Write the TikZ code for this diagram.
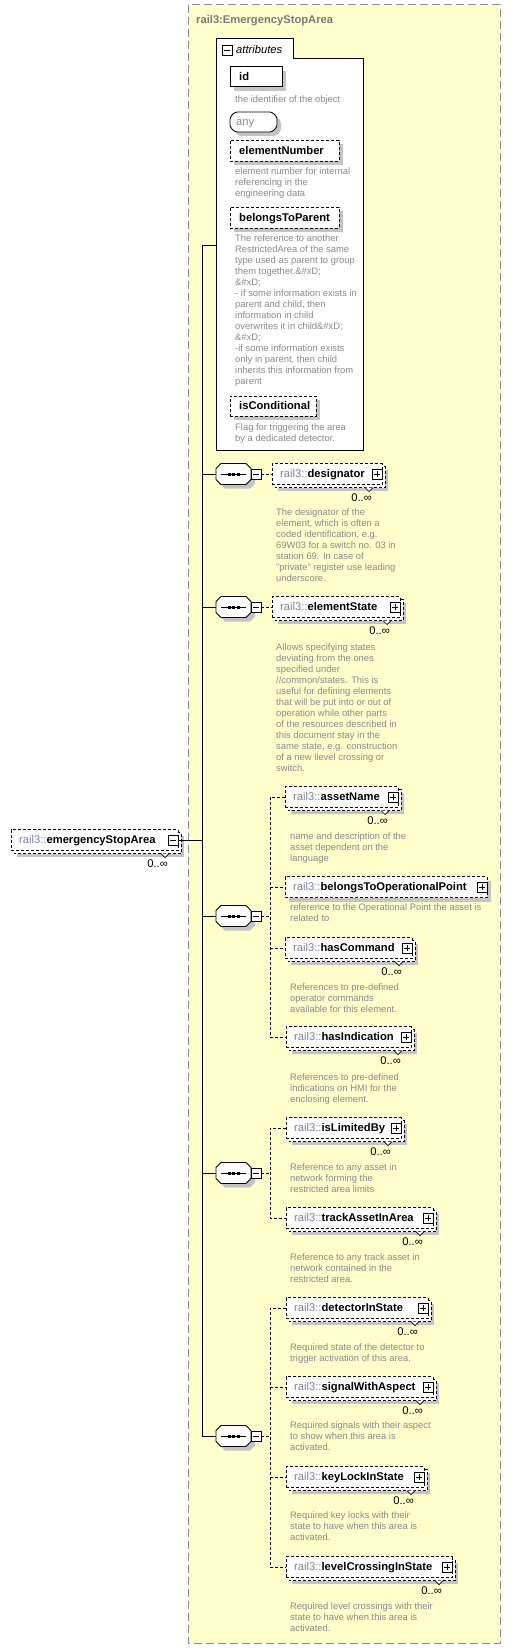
\documentclass[tikz,border=0pt]{standalone}
\usepackage{fontspec}
\setmainfont{Liberation Sans}
\definecolor{ybg}{HTML}{FFFFCC}
\definecolor{bgrey}{HTML}{8C8C8C}
\definecolor{shd}{HTML}{C4C4C4}
\definecolor{dtxt}{HTML}{8A8A8A}
\definecolor{pre}{HTML}{80809A}
\definecolor{ttl}{HTML}{7A7A7A}
\newcommand\labfont{\fontsize{11.2}{13}\selectfont}
\newcommand\descfont{\fontsize{9.4}{11}\selectfont}
\tikzset{
  dsh/.style={dash pattern=on 3pt off 2pt},
  boxd/.style={draw=black, line width=0.8pt, dsh, fill=white},
  lbl/.style={inner sep=0pt, font=\labfont, text height=7pt, text depth=0pt, anchor=west},
  mult/.style={inner sep=0pt, font=\labfont, text height=7pt, text depth=0pt, anchor=east},
  desc/.style={inner sep=0pt, font=\descfont, text=dtxt, align=left, anchor=north west},
  pmbox/.style={draw=black, line width=0.7pt, fill=white, minimum size=10pt, inner sep=0pt},
  minusb/.style={pmbox, path picture={\draw[line width=0.7pt] ([xshift=2pt]path picture bounding box.west) -- ([xshift=-2pt]path picture bounding box.east);}},
  plusb/.style={pmbox, path picture={\draw[line width=0.7pt] ([xshift=2pt]path picture bounding box.west) -- ([xshift=-2pt]path picture bounding box.east) ([yshift=2pt]path picture bounding box.south) -- ([yshift=-2pt]path picture bounding box.north);}},
  conn/.style={line width=1pt},
  dconn/.style={line width=0.9pt, dsh},
}
% element: id, x1, x2, cy, name, multi, sign style
\newcommand\xel[7]{%
  \ifnum#6=1
    \fill[shd] ({#2+6},{#4-4.5}) rectangle ({#3+6},{#4+16.5});
    \draw[boxd] ({#2+3},{#4-7.5}) rectangle ({#3+3},{#4+13.5});
    \draw[line width=0.7pt, fill=white] ({#3-17},{#4+13.5}) -- ({#3-13},{#4+17.5}) -- ({#3-9},{#4+13.5});
  \else
    \fill[shd] ({#2+4},{#4-6.5}) rectangle ({#3+4},{#4+14.5});
  \fi
  \node[boxd, minimum width={#3-#2}, minimum height=21, inner sep=0pt] (#1) at ({(#2+#3)/2},#4) {};
  \node[lbl] (#1-l) at ({#2+8},#4) {\textcolor{pre}{rail3::}\textbf{#5}};
  \node[#7] (#1-s) at ({#3-5},#4) {};
  \ifnum#6=1 \node[mult] (#1-c) at ({#3-10},{#4+24}) {0..∞};\fi
}
% sequence compositor: id, cy
\newcommand\octpath[1]{(221,{#1-10.5}) -- (246,{#1-10.5}) -- (251,{#1-5.5}) -- (251,{#1+5.5}) -- (246,{#1+10.5}) -- (221,{#1+10.5}) -- (216,{#1+5.5}) -- (216,{#1-5.5}) -- cycle}
\newcommand\seqc[2]{%
  \fill[shd, shift={(4,4)}] \octpath{#2};
  \draw[fill=white, line width=0.8pt] \octpath{#2};
  \node[minimum width=35, minimum height=21, inner sep=0pt] (#1) at (233.5,#2) {};
  \draw[line width=0.8pt] (221,#2) -- (246,#2);
  \fill (227.5,{#2-1.5}) rectangle (230.5,{#2+1.5});
  \fill (232,{#2-1.5}) rectangle (235,{#2+1.5});
  \fill (236.5,{#2-1.5}) rectangle (239.5,{#2+1.5});
  \node[minusb] (#1-s) at (256,#2) {};
}
\newcommand\dsc[4]{\node[desc] (#1) at (#2,{#3-7.7}) {\strut #4};}
\begin{document}
\begin{tikzpicture}[x=1pt,y=-1pt]
\useasboundingbox (0,0) rectangle (511,1651);
% yellow panel
\draw[fill=ybg, draw=bgrey, line width=1pt, dash pattern=on 8pt off 4pt] (188,5) rectangle (500,1643);
\node[lbl, text=ttl, font=\labfont\bfseries] (title) at (196,20) {rail3:EmergencyStopArea};

% attributes box
\draw[fill=white, line width=1pt] (216,450) -- (216,39) -- (293,39) -- (293,59) -- (363,59) -- (363,450) -- cycle;
\node[minimum width=147, minimum height=391, inner sep=0pt] (attr) at (289.5,254.5) {};
\node[minusb] (attr-s) at (227,50) {};
\node[lbl, font=\labfont\itshape] (attr-t) at (236,50) {attributes};

% id
\fill[shd] (234,71) rectangle (286,91);
\node[draw, line width=1pt, fill=white, minimum width=52, minimum height=20, inner sep=0pt] (aid) at (256,77) {};
\node[lbl, font=\labfont\bfseries] (aid-l) at (239,77) {id};
\dsc{aid-d}{235}{102.5}{the identifier of the object}
% any
\fill[shd, shift={(4,4)}, rounded corners=2.5pt] (235,112) -- (272,112) -- (277,117) -- (277,127) -- (272,132) -- (235,132) -- (230,127) -- (230,117) -- cycle;
\draw[fill=white, line width=0.8pt, rounded corners=2.5pt] (235,112) -- (272,112) -- (277,117) -- (277,127) -- (272,132) -- (235,132) -- (230,127) -- (230,117) -- cycle;
\node[lbl, text=dtxt] (aany) at (236,122) {any};
% elementNumber
\fill[shd] (234,144) rectangle (343,165);
\node[boxd, minimum width=109, minimum height=21, inner sep=0pt] (aen) at (284.5,150.5) {};
\node[lbl, font=\labfont\bfseries] (aen-l) at (239,150.5) {elementNumber};
\dsc{aen-d}{235}{174.5}{element number for internal\\referencing in the\\engineering data}
% belongsToParent
\fill[shd] (234,211) rectangle (343,232);
\node[boxd, minimum width=109, minimum height=21, inner sep=0pt] (abp) at (284.5,217.5) {};
\node[lbl, font=\labfont\bfseries] (abp-l) at (239,217.5) {belongsToParent};
\dsc{abp-d}{235}{241.5}{The reference to another\\RestrictedArea of the same\\type used as parent to group\\them together.\&\#xD;\\\&\#xD;\\- if some information exists in\\parent and child, then\\information in child\\overwrites it in child\&\#xD;\\\&\#xD;\\-if some information exists\\only in parent, then child\\inherits this information from\\parent}
% isConditional
\fill[shd] (234,400) rectangle (320,420);
\node[boxd, minimum width=86, minimum height=20, inner sep=0pt] (aic) at (273,406) {};
\node[lbl, font=\labfont\bfseries] (aic-l) at (239,406) {isConditional};
\dsc{aic-d}{235}{430.5}{Flag for triggering the area\\by a dedicated detector.}

% main element
\xel{esa}{11}{178}{840}{emergencyStopArea}{1}{minusb}

% compositors
\seqc{s1}{474}
\seqc{s2}{607}
\seqc{s3}{916}
\seqc{s4}{1173}
\seqc{s5}{1436}

% trunk
\coordinate (j0) at (202,245);
\coordinate (j5) at (202,1436);
\draw[conn] (j0 -| attr.west) -- (j0) -- (j5) -- (s5.west);
\draw[conn] (esa-s.east) -- (esa-s.east -| j0);
\draw[conn] (s1.west -| j0) -- (s1.west);
\draw[conn] (s2.west -| j0) -- (s2.west);
\draw[conn] (s3.west -| j0) -- (s3.west);
\draw[conn] (s4.west -| j0) -- (s4.west);

% children of s1, s2
\xel{des}{272}{382}{474}{designator}{1}{plusb}
\dsc{des-d}{276}{515.5}{The designator of the\\element, which is often a\\coded identification, e.g.\\69W03 for a switch no. 03 in\\station 69. In case of\\"private" register use leading\\underscore.}
\draw[dconn] (s1-s.east) -- (des.west);

\xel{est}{272}{400}{607}{elementState}{1}{plusb}
\dsc{est-d}{276}{650.5}{Allows specifying states\\deviating from the ones\\specified under\\//common/states. This is\\useful for defining elements\\that will be put into or out of\\operation while other parts\\of the resources described in\\this document stay in the\\same state, e.g. construction\\of a new llevel crossing or\\switch.}
\draw[dconn] (s2-s.east) -- (est.west);

% children of s3
\xel{an}{285}{398}{797}{assetName}{1}{plusb}
\dsc{an-d}{290}{839.5}{name and description of the\\asset dependent on the\\language}
\xel{bop}{285}{487}{887}{belongsToOperationalPoint}{0}{plusb}
\dsc{bop-d}{290}{910.5}{reference to the Operational Point the asset is\\related to}
\xel{hc}{285}{412}{948}{hasCommand}{1}{plusb}
\dsc{hc-d}{290}{990.5}{References to pre-defined\\operator commands\\available for this element.}
\xel{hi}{286}{411}{1037}{hasIndication}{1}{plusb}
\dsc{hi-d}{290}{1080.5}{References to pre-defined\\indications on HMI for the\\enclosing element.}
\coordinate (v3) at (270,916);
\draw[dconn] (s3-s.east) -- (v3);
\draw[dconn] (an.west) -- (an.west -| v3) -- (hi.west -| v3) -- (hi.west);
\draw[dconn] (bop.west -| v3) -- (bop.west);
\draw[dconn] (hc.west -| v3) -- (hc.west);

% children of s4
\xel{ilb}{286}{401}{1128}{isLimitedBy}{1}{plusb}
\dsc{ilb-d}{290}{1170.5}{Reference to any asset in\\network forming the\\restricted area limits}
\xel{taa}{286}{433}{1218}{trackAssetInArea}{1}{plusb}
\dsc{taa-d}{290}{1260.5}{Reference to any track asset in\\network contained in the\\restricted area.}
\coordinate (v4) at (270,1173);
\draw[dconn] (s4-s.east) -- (v4);
\draw[dconn] (ilb.west) -- (ilb.west -| v4) -- (taa.west -| v4) -- (taa.west);

% children of s5
\xel{dis}{286}{428}{1308}{detectorInState}{1}{plusb}
\dsc{dis-d}{290}{1350.5}{Required state of the detector to\\trigger activation of this area.}
\xel{swa}{286}{433}{1387}{signalWithAspect}{1}{plusb}
\dsc{swa-d}{290}{1428.5}{Required signals with their aspect\\to show when this area is\\activated.}
\xel{kls}{286}{424}{1477}{keyLockInState}{1}{plusb}
\dsc{kls-d}{290}{1518.5}{Required key locks with their\\state to have when this area is\\activated.}
\xel{lcs}{286}{452}{1567}{levelCrossingInState}{1}{plusb}
\dsc{lcs-d}{290}{1609.5}{Required level crossings with their\\state to have when this area is\\activated.}
\coordinate (v5) at (270,1436);
\draw[dconn] (s5-s.east) -- (v5);
\draw[dconn] (dis.west) -- (dis.west -| v5) -- (lcs.west -| v5) -- (lcs.west);
\draw[dconn] (swa.west -| v5) -- (swa.west);
\draw[dconn] (kls.west -| v5) -- (kls.west);
\end{tikzpicture}
\end{document}
